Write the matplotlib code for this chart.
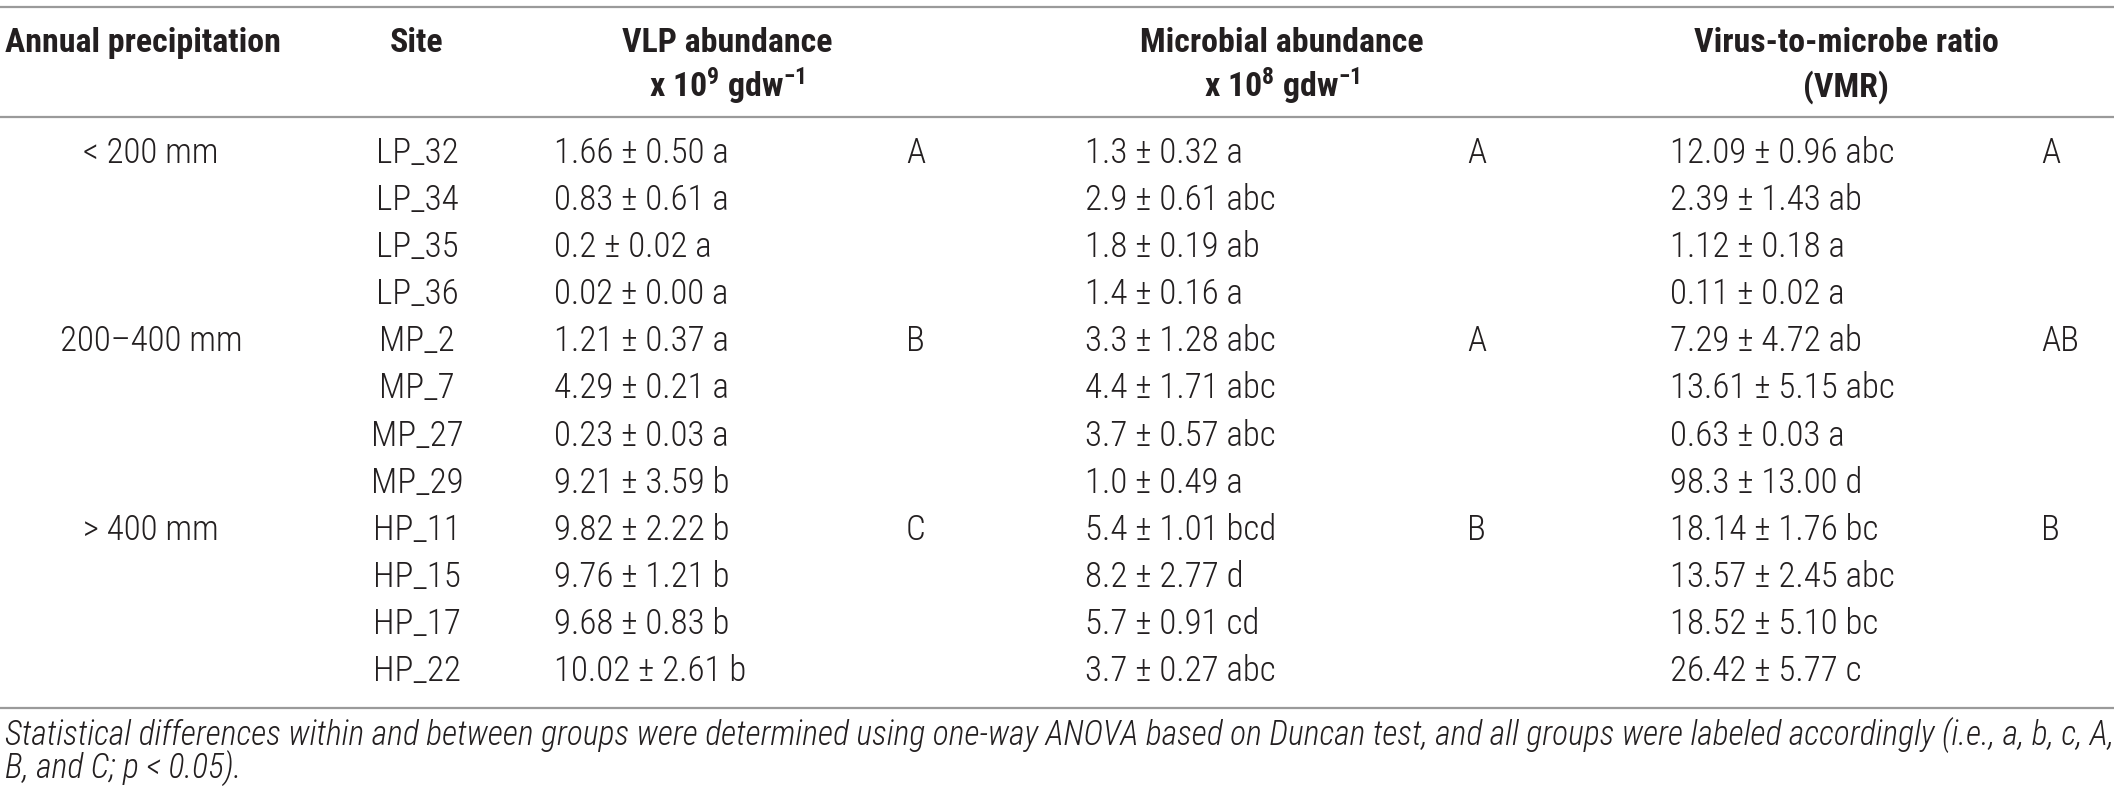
import matplotlib
matplotlib.use("Agg")
import matplotlib.pyplot as plt
from matplotlib import font_manager

# fonts: narrow sans like the journal table, fall back if not installed
names = {f.name for f in font_manager.fontManager.ttflist}
base = next((n for n in ["Liberation Sans Narrow", "Roboto Condensed", "Liberation Sans"]
             if n in names), "DejaVu Sans")
plt.rcParams["font.family"] = [base, "DejaVu Sans"]
plt.rcParams["mathtext.fontset"] = "custom"
plt.rcParams["mathtext.rm"] = base + ":bold"
plt.rcParams["mathtext.it"] = base + ":bold"
plt.rcParams["mathtext.bf"] = base + ":bold"

# 1. Table data
precip = ["< 200 mm", "200–400 mm", "> 400 mm"]
precip_rows = [0, 4, 8]
sites = ["LP_32", "LP_34", "LP_35", "LP_36",
         "MP_2", "MP_7", "MP_27", "MP_29",
         "HP_11", "HP_15", "HP_17", "HP_22"]
vlp = ["1.66 ± 0.50 a", "0.83 ± 0.61 a", "0.2 ± 0.02 a", "0.02 ± 0.00 a",
       "1.21 ± 0.37 a", "4.29 ± 0.21 a", "0.23 ± 0.03 a", "9.21 ± 3.59 b",
       "9.82 ± 2.22 b", "9.76 ± 1.21 b", "9.68 ± 0.83 b", "10.02 ± 2.61 b"]
vlp_group = ["A", "B", "C"]
microbial = ["1.3 ± 0.32 a", "2.9 ± 0.61 abc", "1.8 ± 0.19 ab", "1.4 ± 0.16 a",
             "3.3 ± 1.28 abc", "4.4 ± 1.71 abc", "3.7 ± 0.57 abc", "1.0 ± 0.49 a",
             "5.4 ± 1.01 bcd", "8.2 ± 2.77 d", "5.7 ± 0.91 cd", "3.7 ± 0.27 abc"]
microbial_group = ["A", "A", "B"]
vmr = ["12.09 ± 0.96 abc", "2.39 ± 1.43 ab", "1.12 ± 0.18 a", "0.11 ± 0.02 a",
       "7.29 ± 4.72 ab", "13.61 ± 5.15 abc", "0.63 ± 0.03 a", "98.3 ± 13.00 d",
       "18.14 ± 1.76 bc", "13.57 ± 2.45 abc", "18.52 ± 5.10 bc", "26.42 ± 5.77 c"]
vmr_group = ["A", "AB", "B"]
footnote = ["Statistical differences within and between groups were determined using one-way ANOVA "
            "based on Duncan test, and all groups were labeled accordingly (i.e., a, b, c, A,",
            "B, and C; p < 0.05)."]

# 2. Figure in pixel coordinates
W, H = 2118, 794
fig = plt.figure(figsize=(W / 100, H / 100), dpi=100)
ax = fig.add_axes([0, 0, 1, 1])
ax.set_xlim(0, W)
ax.set_ylim(H, 0)
ax.axis("off")
renderer = fig.canvas.get_renderer()


def fit_size(s, target_px, **kw):
    # font size that gives the string the width it has in the reference
    t = ax.text(0, 0, s, fontsize=10, **kw)
    w = t.get_window_extent(renderer).width
    t.remove()
    return 10 * target_px / w


txt = "#231f20"
fs_body = (fit_size("12.09 ± 0.96 abc", 233, fontweight="light")
           + fit_size("< 200 mm", 132, fontweight="light")) / 2
fs_head = (fit_size("Annual precipitation", 279, fontweight="bold")
           + fit_size("Virus-to-microbe ratio", 300, fontweight="bold")) / 2
fs_foot = fit_size(footnote[0], 2106, style="italic", fontweight="light")

row_y0, row_step = 163, 47.1


def rule(y):
    ax.plot([0, 2114], [y, y], color="#9a9a9a", lw=1.6, solid_capstyle="butt")


rule(7)
rule(117)
rule(708)

# header
hkw = dict(fontsize=fs_head, fontweight="bold", color=txt, va="baseline")
ax.text(5, 52, "Annual precipitation", ha="left", **hkw)
ax.text(417, 52, "Site", ha="center", **hkw)
ax.text(727, 52, "VLP abundance", ha="center", **hkw)
ax.text(727, 97, r"x 10$^{9}$ gdw$^{-1}$", ha="center", **hkw)
ax.text(1282, 52, "Microbial abundance", ha="center", **hkw)
ax.text(1282, 97, r"x 10$^{8}$ gdw$^{-1}$", ha="center", **hkw)
ax.text(1846, 52, "Virus-to-microbe ratio", ha="center", **hkw)
ax.text(1846, 97, "(VMR)", ha="center", **hkw)

# body
bkw = dict(fontsize=fs_body, fontweight="light", color=txt, va="baseline")
for i, s in enumerate(sites):
    y = row_y0 + i * row_step
    ax.text(417, y, s, ha="center", **bkw)
    ax.text(554, y, vlp[i], ha="left", **bkw)
    ax.text(1085, y, microbial[i], ha="left", **bkw)
    ax.text(1670, y, vmr[i], ha="left", **bkw)

for k, r in enumerate(precip_rows):
    y = row_y0 + r * row_step
    ax.text(151, y, precip[k], ha="center", **bkw)
    ax.text(906, y, vlp_group[k], ha="left", **bkw)
    ax.text(1467, y, microbial_group[k], ha="left", **bkw)
    ax.text(2041, y, vmr_group[k], ha="left", **bkw)

# footnote
fkw = dict(fontsize=fs_foot, style="italic", fontweight="light", color=txt,
           va="baseline", ha="left")
ax.text(5, 745, footnote[0], **fkw)
ax.text(5, 778, footnote[1], **fkw)

fig.savefig("out.png", dpi=100)
